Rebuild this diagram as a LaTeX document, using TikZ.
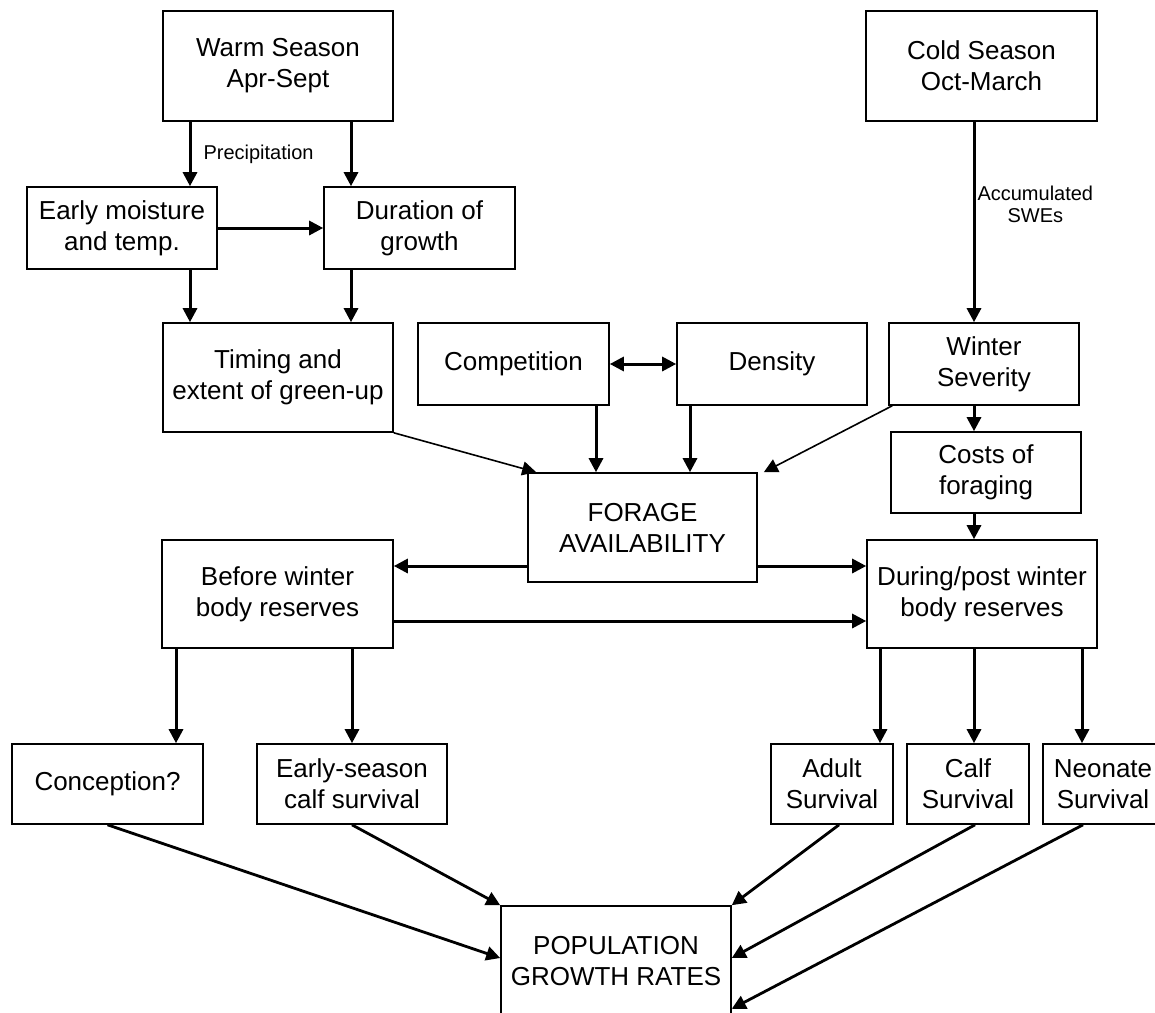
\documentclass[tikz,border=0pt]{standalone}
\usepackage{fontspec}
\setmainfont{Liberation Sans}
\usetikzlibrary{
    arrows.meta,
    calc
}
\tikzset{
    box/.style = {
        rectangle,
        draw,
        line width=0.8pt,
        inner sep=2pt,
        align=center
    },
    arrow/.style = {
        -{Triangle[length=7pt,width=7pt]},
        line width=1.5pt
    },
    biarrow/.style = {
        {Triangle[length=7pt,width=7pt]}-{Triangle[length=7pt,width=7pt]},
        line width=1.5pt
    },
    thinarrow/.style = {
        -{Triangle[length=7pt,width=7pt]},
        line width=0.8pt
    },
    slantarrow/.style = {
        -{Triangle[length=7pt,width=7pt]},
        line width=1.4pt
    },
    edgetext/.style = {
        font=\fontsize{10}{11}\selectfont,
        inner sep=1pt,
        align=center
    }
}

\begin{document}
\begin{tikzpicture}[x=0.5pt,y=-0.5pt,font=\fontsize{13}{15.5}\selectfont]
\useasboundingbox (0,0) rectangle (1155,1012);

% seasons and summer path
\node (warm) [box,minimum width=115pt,minimum height=55pt] at (278,66) {Warm Season\\Apr-Sept};
\node (cold) [box,minimum width=115.5pt,minimum height=55pt] at (981.5,66) {Cold Season\\Oct-March};
\node (early) [box,minimum width=95pt,minimum height=41pt] at (122,228) {Early moisture\\and temp.};
\node (dur) [box,minimum width=95.5pt,minimum height=41pt] at (419.5,228) {Duration of\\growth};
\node (timing) [box,minimum width=115pt,minimum height=54.5pt] at (278,377.5) {Timing and\\extent of green-up};
\node (comp) [box,minimum width=95.5pt,minimum height=41pt] at (513.5,364) {Competition};
\node (dens) [box,minimum width=95pt,minimum height=41pt] at (772,364) {Density};
\node (winter) [box,minimum width=95pt,minimum height=41pt] at (984,364) {Winter\\Severity};
\node (costs) [box,minimum width=95pt,minimum height=40.5pt] at (986,472.5) {Costs of\\foraging};
\node (forage) [box,minimum width=114.5pt,minimum height=54.5pt] at (642.5,527.5) {FORAGE\\AVAILABILITY};

% body reserves and survival
\node (before) [box,minimum width=115.5pt,minimum height=54pt] at (277.5,594) {Before winter\\body reserves};
\node (during) [box,minimum width=115pt,minimum height=54pt] at (982,594) {During/post winter\\body reserves};
\node (concep) [box,minimum width=95.5pt,minimum height=40pt] at (107.5,784) {Conception?};
\node (earlyss) [box,minimum width=95pt,minimum height=40pt] at (352,784) {Early-season\\calf survival};
\node (adult) [box,minimum width=61pt,minimum height=40pt] at (832,784) {Adult\\Survival};
\node (calf) [box,minimum width=61pt,minimum height=40pt] at (968,784) {Calf\\Survival};
\node (neo) [box,minimum width=60pt,minimum height=40pt] at (1103,784) {Neonate\\Survival};
\node (pop) [box,minimum width=115pt,minimum height=55pt] at (616,961) {POPULATION\\GROWTH RATES};

% columns and rows the connectors run along
\coordinate (xa) at (190,0);
\coordinate (xb) at (351,0);
\coordinate (xc) at (974,0);
\coordinate (xd) at (596,0);
\coordinate (xe) at (690,0);
\coordinate (xf) at (176,0);
\coordinate (xg) at (880,0);
\coordinate (xh) at (1082,0);
\coordinate (ya) at (0,566);
\coordinate (yb) at (0,621);

\draw[arrow] (xa |- warm.south) -- (xa |- early.north)
    node[midway,right,edgetext,xshift=5pt] {Precipitation};
\draw[arrow] (xb |- warm.south) -- (xb |- dur.north);
\draw[arrow] (early) -- (dur);
\draw[arrow] (xa |- early.south) -- (xa |- timing.north);
\draw[arrow] (xb |- dur.south) -- (xb |- timing.north);
\draw[biarrow] (comp) -- (dens);
\draw[arrow] (xc |- cold.south) -- (xc |- winter.north)
    node[pos=0.41,right,edgetext] {Accumulated\\SWEs};
\draw[arrow] (xc |- winter.south) -- (xc |- costs.north);
\draw[arrow] (xc |- costs.south) -- (xc |- during.north);

\draw[thinarrow] (timing.south east) -- ($(forage.north west)+(9,0)$);
\draw[arrow] (xd |- comp.south) -- (xd |- forage.north);
\draw[arrow] (xe |- dens.south) -- (xe |- forage.north);
\draw[thinarrow] ($(winter.south west)+(4,0)$) -- ($(forage.north east)+(6,0)$);

\draw[arrow] (forage.west |- ya) -- (before.east |- ya);
\draw[arrow] (forage.east |- ya) -- (during.west |- ya);
\draw[arrow] (before.east |- yb) -- (during.west |- yb);

\draw[arrow] (xf |- before.south) -- (xf |- concep.north);
\draw[arrow] (earlyss.north |- before.south) -- (earlyss.north);
\draw[arrow] (xg |- during.south) -- (xg |- adult.north);
\draw[arrow] (xc |- during.south) -- (xc |- calf.north);
\draw[arrow] (xh |- during.south) -- (xh |- neo.north);

\draw[slantarrow] (concep.south) -- ($(pop.west)+(0,-3)$);
\draw[slantarrow] (earlyss.south) -- (pop.north west);
\draw[slantarrow] ($(adult.south)+(7,0)$) -- (pop.north east);
\draw[slantarrow] ($(calf.south)+(7,0)$) -- ($(pop.east)+(0,-3)$);
\draw[slantarrow] ($(neo.south)+(-20,0)$) -- ($(pop.south east)+(0,-8)$);
\end{tikzpicture}
\end{document}
